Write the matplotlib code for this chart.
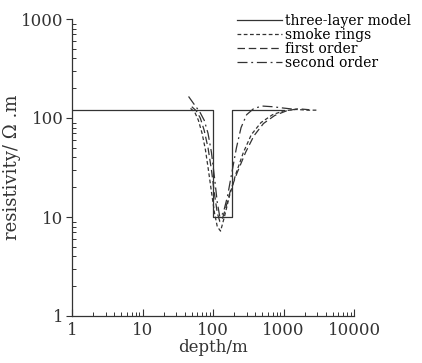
import matplotlib
matplotlib.use("Agg")
import matplotlib.pyplot as plt
from matplotlib.ticker import FixedLocator, FixedFormatter, LogLocator, NullFormatter

# ----------------------------------------------------------------------
# Data
# ----------------------------------------------------------------------
model_depth = [1, 100, 100, 185, 185, 1000]
model_res = [120, 120, 10, 10, 120, 120]

smoke_depth = [48, 55, 62, 70, 78, 86, 95, 105, 115, 128, 145, 170, 210, 270, 350, 480, 700, 1000, 1500, 2200, 3000]
smoke_res = [125, 115, 95, 70, 48, 30, 18, 11, 8, 7.2, 10, 16, 27, 45, 68, 90, 108, 118, 122, 120, 120]

first_depth = [50, 58, 66, 75, 85, 95, 105, 115, 125, 135, 150, 175, 220, 290, 380, 520, 750, 1100, 1600, 2400]
first_res = [130, 118, 100, 75, 50, 30, 17, 11, 9, 9.5, 12, 18, 28, 45, 66, 88, 106, 118, 124, 121]

second_depth = [45, 55, 65, 75, 85, 95, 105, 115, 125, 140, 160, 185, 215, 250, 300, 380, 500, 700, 1000, 1500]
second_res = [165, 135, 115, 95, 70, 45, 25, 14, 10, 11, 16, 28, 50, 80, 108, 125, 132, 130, 126, 122]

x_ticks = [1, 10, 100, 1000, 10000]
x_labels = ["1", "10", "100", "1000", "10000"]
y_ticks = [1, 10, 100, 1000]
y_labels = ["1", "10", "100", "1000"]

# ----------------------------------------------------------------------
# Figure
# ----------------------------------------------------------------------
plt.rcParams["font.family"] = ["DejaVu Serif"]
col = "#333333"

fig = plt.figure(figsize=(4.22, 3.63), dpi=100)
ax = fig.add_axes([72 / 422, 47 / 363, 282 / 422, 297 / 363])

ax.plot(model_depth, model_res, color=col, lw=0.9, label="three-layer model")
ax.plot(smoke_depth, smoke_res, color=col, lw=0.9, dashes=(3, 2), label="smoke rings")
ax.plot(first_depth, first_res, color=col, lw=0.9, dashes=(6, 3), label="first order")
ax.plot(second_depth, second_res, color=col, lw=0.9, dashes=(8, 3, 1.5, 3), label="second order")

ax.set_xscale("log")
ax.set_yscale("log")
ax.set_xlim(1, 10000)
ax.set_ylim(1, 1000)

ax.xaxis.set_major_locator(FixedLocator(x_ticks))
ax.xaxis.set_major_formatter(FixedFormatter(x_labels))
ax.yaxis.set_major_locator(FixedLocator(y_ticks))
ax.yaxis.set_major_formatter(FixedFormatter(y_labels))
ax.xaxis.set_minor_locator(LogLocator(base=10, subs=range(2, 10)))
ax.yaxis.set_minor_locator(LogLocator(base=10, subs=range(2, 10)))
ax.xaxis.set_minor_formatter(NullFormatter())
ax.yaxis.set_minor_formatter(NullFormatter())

ax.tick_params(axis="x", which="major", direction="in", length=5, width=0.8, colors=col, labelsize=12, pad=4)
ax.tick_params(axis="x", which="minor", direction="in", length=3, width=0.7, colors=col)
ax.tick_params(axis="y", which="major", direction="out", length=4, width=0.8, colors=col, labelsize=12, pad=2)
ax.tick_params(axis="y", which="minor", direction="in", length=3, width=0.7, colors=col)

for s in ["top", "right"]:
    ax.spines[s].set_visible(False)
for s in ["left", "bottom"]:
    ax.spines[s].set_color(col)
    ax.spines[s].set_linewidth(0.9)

ax.set_xlabel("depth/m", fontsize=12, color=col, labelpad=0)
ax.set_ylabel("resistivity/ Ω .m", fontsize=13, color=col, labelpad=0)

ax.legend(loc="upper right", bbox_to_anchor=(1.225, 1.04), frameon=False, fontsize=10,
          handlelength=3.2, handletextpad=0.2, labelspacing=0.0, borderpad=0.0)

fig.savefig("out.png", dpi=100)
